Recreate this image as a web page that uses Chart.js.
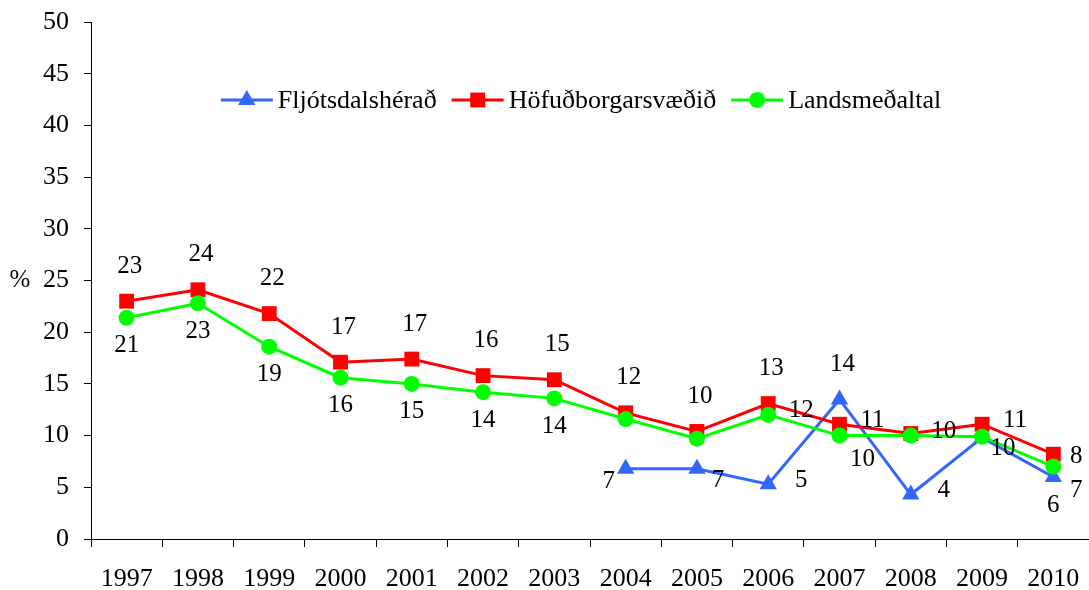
<!DOCTYPE html>
<html lang="is">
<head>
  <meta charset="UTF-8" />
  <title>Hlutfall</title>
  <style>
    body {
      margin: 0;
      background-color: #ffffff;
    }
    .wrap {
      width: 1089px;
      height: 590px;
      position: relative;
    }
  </style>
</head>
<body>
  <div class="wrap">
    <canvas id="chart"></canvas>
  </div>

  <script src="https://cdn.jsdelivr.net/npm/chart.js"></script>
  <script>
    // values
    const years = ['1997', '1998', '1999', '2000', '2001', '2002', '2003',
                   '2004', '2005', '2006', '2007', '2008', '2009', '2010'];
    const fljotsdalsherad = [null, null, null, null, null, null, null,
                             6.8, 6.8, 5.3, 13.5, 4.3, 9.8, 6.0];
    const hofudborgarsvaedid = [23.0, 24.1, 21.8, 17.1, 17.4, 15.8, 15.4,
                                12.2, 10.4, 13.1, 11.1, 10.2, 11.1, 8.2];
    const landsmedaltal = [21.4, 22.8, 18.6, 15.6, 15.0, 14.2, 13.6,
                           11.6, 9.7, 12.0, 10.0, 10.0, 9.9, 7.0];
    const seriesNames = ['Fljótsdalshérað', 'Höfuðborgarsvæðið', 'Landsmeðaltal'];

    // where each value label sits relative to its point
    const labelOffsets = {
      a: [3, -35], b: [0, 28], r: [33, -4], rn: [23, 2], rb: [23, 24], rs: [21, 12], l: [-17, 13]
    };
    const labelPos = [
      [null, null, null, null, null, null, null, 'l', 'rs', 'r', 'a', 'r', null, 'b'],
      ['a', 'a', 'a', 'a', 'a', 'a', 'a', 'a', 'a', 'a', 'r', null, 'r', 'rn'],
      ['b', 'b', 'b', 'b', 'b', 'b', 'b', null, null, 'r', 'rb', 'r', 'rs', 'rb']
    ];

    const FONT = '"Liberation Serif", "Times New Roman", serif';
    const colors = ['#3366ff', '#ff0000', '#00ff00'];
    const shapes = ['triangle', 'rect', 'circle'];
    const radii = [10, 10.5, 8];

    function marker(ctx, shape, x, y, r, color) {
      ctx.fillStyle = color;
      ctx.beginPath();
      if (shape === 'triangle') {
        ctx.moveTo(x, y - r);
        ctx.lineTo(x + r * 0.866, y + r / 2);
        ctx.lineTo(x - r * 0.866, y + r / 2);
        ctx.closePath();
      } else if (shape === 'rect') {
        const s = r * Math.SQRT1_2;
        ctx.rect(x - s, y - s, 2 * s, 2 * s);
      } else {
        ctx.arc(x, y, r, 0, Math.PI * 2);
      }
      ctx.fill();
    }

    const valueLabels = {
      id: 'valueLabels',
      afterDatasetsDraw(chart) {
        const ctx = chart.ctx;
        ctx.save();
        ctx.font = '25px ' + FONT;
        ctx.fillStyle = '#000';
        ctx.textAlign = 'center';
        ctx.textBaseline = 'middle';
        chart.data.datasets.forEach((ds, i) => {
          const meta = chart.getDatasetMeta(i);
          ds.data.forEach((v, j) => {
            const pos = labelPos[i][j];
            if (v === null || !pos) return;
            const pt = meta.data[j];
            const off = labelOffsets[pos];
            ctx.fillText(String(Math.round(v)), pt.x + off[0], pt.y + off[1]);
          });
        });
        ctx.restore();
      }
    };

    const extras = {
      id: 'extras',
      afterDraw(chart) {
        const ctx = chart.ctx;
        const area = chart.chartArea;
        ctx.save();
        ctx.fillStyle = '#000';
        ctx.textBaseline = 'middle';
        ctx.font = '25px ' + FONT;
        ctx.textAlign = 'center';
        ctx.fillText('%', 20, (area.top + area.bottom) / 2);

        // legend inside the plot
        ctx.font = '26px ' + FONT;
        ctx.textAlign = 'left';
        const lineLen = 52, gap = 5, spacing = 15;
        let total = 0;
        seriesNames.forEach((n, i) => {
          total += lineLen + gap + ctx.measureText(n).width;
          if (i < seriesNames.length - 1) total += spacing;
        });
        let x = 581 - total / 2;
        const y = 100;
        seriesNames.forEach((n, i) => {
          ctx.strokeStyle = colors[i];
          ctx.lineWidth = 3;
          ctx.beginPath();
          ctx.moveTo(x, y);
          ctx.lineTo(x + lineLen, y);
          ctx.stroke();
          marker(ctx, shapes[i], x + lineLen / 2, y, radii[i], colors[i]);
          x += lineLen + gap;
          ctx.fillStyle = '#000';
          ctx.fillText(n, x, y + 1);
          x += ctx.measureText(n).width + spacing;
        });
        ctx.restore();
      }
    };

    const datasets = [fljotsdalsherad, hofudborgarsvaedid, landsmedaltal].map((d, i) => ({
      label: seriesNames[i],
      data: d,
      borderColor: colors[i],
      backgroundColor: colors[i],
      borderWidth: 3,
      pointStyle: shapes[i],
      pointRadius: radii[i],
      pointHoverRadius: radii[i],
      pointBorderWidth: 0,
      tension: 0,
      clip: false,
      order: 3 - i
    }));

    new Chart(document.getElementById('chart'), {
      type: 'line',
      data: { labels: years, datasets },
      plugins: [valueLabels, extras],
      options: {
        responsive: true,
        maintainAspectRatio: false,
        animation: false,
        layout: {
          autoPadding: false,
          padding: { top: 22, right: -2, left: 0, bottom: 0 }
        },
        plugins: {
          legend: { display: false },
          tooltip: { enabled: false }
        },
        scales: {
          x: {
            offset: true,
            grid: {
              offset: true,
              drawOnChartArea: false,
              color: '#000',
              tickLength: 8
            },
            border: { color: '#000', width: 1 },
            ticks: {
              color: '#000',
              font: { family: FONT, size: 26 },
              padding: 17,
              maxRotation: 0,
              autoSkip: false
            },
            afterFit(scale) {
              scale.height = 51;
              scale.paddingLeft = 0;
              scale.paddingRight = 0;
            }
          },
          y: {
            min: 0,
            max: 50,
            grid: {
              drawOnChartArea: false,
              color: '#000',
              tickLength: 7
            },
            border: { color: '#000', width: 1 },
            ticks: {
              stepSize: 5,
              color: '#000',
              font: { family: FONT, size: 26 },
              padding: 15
            },
            afterFit(scale) {
              scale.width = 91;
              scale.paddingTop = 0;
              scale.paddingBottom = 0;
            }
          }
        }
      }
    });
  </script>
</body>
</html>
